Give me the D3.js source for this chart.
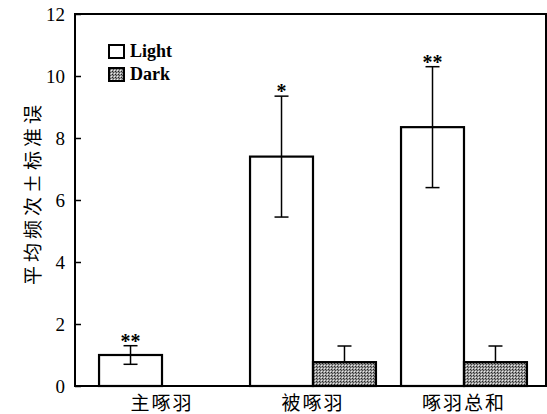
<!DOCTYPE html>
<html><head><meta charset="utf-8">
<script src="https://cdn.jsdelivr.net/npm/d3@7"></script>
<style>body{margin:0;background:#fff}
.serif{font-family:"Liberation Serif","Times New Roman",Times,serif}</style>
</head><body>
<script>
const categories = ["主啄羽", "被啄羽", "啄羽总和"];
const seriesNames = ["Light", "Dark"];
const lightValues = [1.0, 7.4, 8.35];
const lightErrors = [0.3, 1.95, 1.95];
const darkValues = [0, 0.77, 0.77];
const darkErrors = [0, 0.52, 0.52];
const lightMarks = ["**", "*", "**"];
const yTicks = [0, 2, 4, 6, 8, 10, 12];
const yLabel = "平均频次±标准误";

(function () {
const W = 547, H = 414;
const mL = 75, mR = 546, mT = 14, mB = 386;
const CJK = "'Noto Sans CJK SC', sans-serif";
const svg = d3.select("body").append("svg").attr("width", W).attr("height", H);

const defs = svg.append("defs");
const pat = defs.append("pattern").attr("id", "stip").attr("patternUnits", "userSpaceOnUse")
  .attr("width", 3).attr("height", 3);
pat.append("rect").attr("width", 3).attr("height", 3).attr("fill", "#9a9a9a");
pat.append("rect").attr("x", 0).attr("y", 0).attr("width", 1).attr("height", 1).attr("fill", "#222");
pat.append("rect").attr("x", 1).attr("y", 1).attr("width", 1).attr("height", 1).attr("fill", "#444");
pat.append("rect").attr("x", 2).attr("y", 2).attr("width", 1).attr("height", 1).attr("fill", "#eee");

const y = d3.scaleLinear().domain([0, 12]).range([mB, mT]);
const x0 = d3.scaleBand().domain(categories).range([mL, mR])
  .paddingInner(0.166).paddingOuter(0.1427).align(0.558);
const x1 = d3.scaleBand().domain(seriesNames).range([0, x0.bandwidth()]);

const data = categories.map((c, i) => ({
  cat: c,
  items: [
    {s: "Light", v: lightValues[i], e: lightErrors[i], mark: lightMarks[i], both: true},
    {s: "Dark", v: darkValues[i], e: darkErrors[i], mark: "", both: false}
  ]
}));

// frame
svg.append("rect").attr("x", mL).attr("y", mT).attr("width", mR - mL).attr("height", mB - mT)
  .attr("fill", "none").attr("stroke", "#000").attr("stroke-width", 2);

// y axis
const yAxis = d3.axisLeft(y).tickValues(yTicks).tickSize(-6).tickPadding(10).tickFormat(d3.format("d"));
const ga = svg.append("g").attr("transform", `translate(${mL},0)`).call(yAxis)
  .attr("font-family", null).attr("font-size", null);
ga.select(".domain").remove();
ga.selectAll(".tick line").attr("stroke-width", 1.5);
ga.selectAll("text").attr("class", "serif").style("font-size", "19px").attr("fill", "#000");

// bars
const g = svg.selectAll(".grp").data(data).enter().append("g")
  .attr("transform", d => `translate(${x0(d.cat)},0)`);
g.selectAll("rect").data(d => d.items.filter(it => it.v > 0)).enter().append("rect")
  .attr("x", d => x1(d.s)).attr("width", x1.bandwidth())
  .attr("y", d => y(d.v)).attr("height", d => y(0) - y(d.v))
  .attr("fill", d => d.s === "Light" ? "#fff" : "url(#stip)")
  .attr("stroke", "#000").attr("stroke-width", 2.2);

// error bars
const eb = g.selectAll(".eb").data(d => d.items.filter(it => it.v > 0)).enter().append("g");
eb.append("line")
  .attr("x1", d => x1(d.s) + x1.bandwidth() / 2).attr("x2", d => x1(d.s) + x1.bandwidth() / 2)
  .attr("y1", d => y(d.both ? d.v - d.e : d.v)).attr("y2", d => y(d.v + d.e))
  .attr("stroke", "#000").attr("stroke-width", 1.5);
eb.append("line")
  .attr("x1", d => x1(d.s) + x1.bandwidth() / 2 - 7).attr("x2", d => x1(d.s) + x1.bandwidth() / 2 + 7)
  .attr("y1", d => y(d.v + d.e)).attr("y2", d => y(d.v + d.e))
  .attr("stroke", "#000").attr("stroke-width", 1.5);
eb.filter(d => d.both).append("line")
  .attr("x1", d => x1(d.s) + x1.bandwidth() / 2 - 7).attr("x2", d => x1(d.s) + x1.bandwidth() / 2 + 7)
  .attr("y1", d => y(d.v - d.e)).attr("y2", d => y(d.v - d.e))
  .attr("stroke", "#000").attr("stroke-width", 1.5);
eb.filter(d => d.mark).append("text")
  .attr("x", d => x1(d.s) + x1.bandwidth() / 2).attr("y", d => y(d.v + d.e) + 2)
  .attr("text-anchor", "middle").attr("class", "serif")
  .style("font-weight", "bold").style("font-size", "20px").text(d => d.mark);

// x labels
svg.selectAll(".xl").data(categories).enter().append("text")
  .attr("x", d => x0(d) + x0.bandwidth() / 2).attr("y", 410)
  .attr("text-anchor", "middle").style("font-family", CJK)
  .style("font-size", "19px").attr("letter-spacing", 2).text(d => d);

// y label
svg.append("text").attr("transform", `translate(40,193) rotate(-90)`)
  .attr("text-anchor", "middle").style("font-family", CJK)
  .style("font-size", "19px").attr("letter-spacing", 4).text(yLabel);

// legend
const lg = svg.selectAll(".lg").data(seriesNames).enter().append("g")
  .attr("transform", (d, i) => `translate(109,${45 + i * 23})`);
lg.append("rect").attr("width", 15).attr("height", 13)
  .attr("fill", d => d === "Light" ? "#fff" : "url(#stip)").attr("stroke", "#000").attr("stroke-width", 2);
lg.append("text").attr("x", 21).attr("y", 12).attr("class", "serif")
  .style("font-weight", "bold").style("font-size", "18px").text(d => d);
})();
</script>
</body></html>
